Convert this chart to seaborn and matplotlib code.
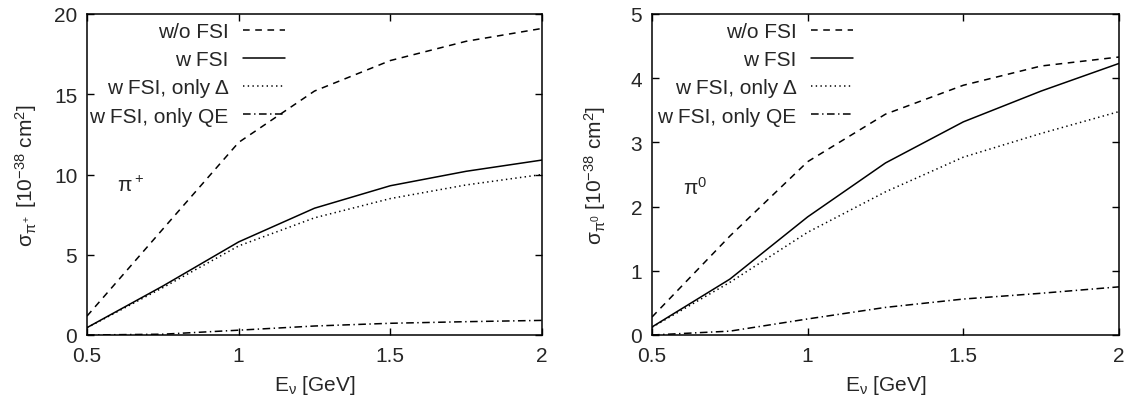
import matplotlib
matplotlib.use("Agg")
import matplotlib.pyplot as plt
import seaborn as sns
import pandas as pd

# Neutrino energy grid [GeV]
energy = [0.5, 0.75, 1.0, 1.25, 1.5, 1.75, 2.0]

# pi+ production cross sections [1e-38 cm^2]
piplus_no_fsi = [1.18, 6.6, 12.0, 15.2, 17.1, 18.3, 19.1]
piplus_fsi = [0.46, 3.05, 5.8, 7.9, 9.3, 10.2, 10.9]
piplus_fsi_delta = [0.45, 2.95, 5.55, 7.3, 8.5, 9.35, 10.0]
piplus_fsi_qe = [0.0, 0.05, 0.3, 0.56, 0.73, 0.83, 0.91]

# pi0 production cross sections [1e-38 cm^2]
pizero_no_fsi = [0.28, 1.54, 2.70, 3.44, 3.89, 4.19, 4.33]
pizero_fsi = [0.125, 0.87, 1.84, 2.68, 3.32, 3.80, 4.23]
pizero_fsi_delta = [0.12, 0.82, 1.60, 2.23, 2.77, 3.14, 3.48]
pizero_fsi_qe = [0.0, 0.06, 0.25, 0.43, 0.56, 0.65, 0.75]

labels = ["w/o FSI", "w FSI", "w FSI, only \u0394", "w FSI, only QE"]
xticks = [0.5, 1, 1.5, 2]
xtick_labels = ["0.5", "1", "1.5", "2"]

sns.set_style("ticks")
plt.rcParams["font.family"] = ["Liberation Sans", "DejaVu Sans"]
plt.rcParams["mathtext.fontset"] = "custom"
plt.rcParams["mathtext.rm"] = "Liberation Sans"
plt.rcParams["mathtext.it"] = "Liberation Sans:italic"
plt.rcParams["lines.scale_dashes"] = False

FS = 15
styles = [
    (0, (4.8, 4.0)),
    "-",
    (0, (1.0, 2.4)),
    (0, (5.5, 2.5, 1.0, 2.5)),
]

fig = plt.figure(figsize=(11.29, 4.02), dpi=100)
ax_l = fig.add_axes([87 / 1129, 66 / 402, 455 / 1129, 321 / 402])
ax_r = fig.add_axes([652 / 1129, 66 / 402, 467 / 1129, 321 / 402])

panels = [
    (ax_l, [piplus_no_fsi, piplus_fsi, piplus_fsi_delta, piplus_fsi_qe],
     (0, 20), [0, 5, 10, 15, 20],
     r"$\mathregular{\sigma_{\pi^+}}$ [10$^{\mathregular{-38}}$ cm$^{\mathregular{2}}$]",
     r"$\mathregular{\pi^+}$", 9.0, -0.105, 0.435),
    (ax_r, [pizero_no_fsi, pizero_fsi, pizero_fsi_delta, pizero_fsi_qe],
     (0, 5), [0, 1, 2, 3, 4, 5],
     r"$\mathregular{\sigma_{\pi^0}}$ [10$^{\mathregular{-38}}$ cm$^{\mathregular{2}}$]",
     r"$\mathregular{\pi^0}$", 2.2, -0.094, 0.43),
]

for ax, series, ylim, yticks, ylabel, tag, tag_y, ylab_x, leg_x in panels:
    for vals, lab, ls in zip(series, labels, styles):
        df = pd.DataFrame({"E": energy, "sigma": vals})
        sns.lineplot(data=df, x="E", y="sigma", ax=ax, color="black",
                     linewidth=1.1, linestyle=ls, label=lab)
    ax.set_xlim(0.5, 2)
    ax.set_ylim(*ylim)
    ax.set_xticks(xticks)
    ax.set_xticklabels(xtick_labels)
    ax.set_yticks(yticks)
    ax.tick_params(direction="in", length=5, width=1.0, top=True, right=True,
                   labelsize=FS, color="black")
    ax.tick_params(axis="x", pad=8)
    ax.tick_params(axis="y", pad=7)
    for sp in ax.spines.values():
        sp.set_visible(True)
        sp.set_linewidth(1.1)
        sp.set_color("black")
    ax.set_xlabel(r"E$_{\mathregular{\nu}}$ [GeV]", fontsize=FS, labelpad=6)
    ax.set_ylabel(ylabel, fontsize=FS)
    ax.yaxis.set_label_coords(ylab_x, 0.5)
    ax.text(0.6, tag_y, tag, fontsize=FS, ha="left", va="baseline")
    ax.legend(loc="upper right", bbox_to_anchor=(leg_x, 0.975), frameon=False,
              markerfirst=False, fontsize=FS, handlelength=2.0,
              handletextpad=0.7, labelspacing=0.44, borderpad=0,
              borderaxespad=0)

fig.savefig("out.png", dpi=100)
